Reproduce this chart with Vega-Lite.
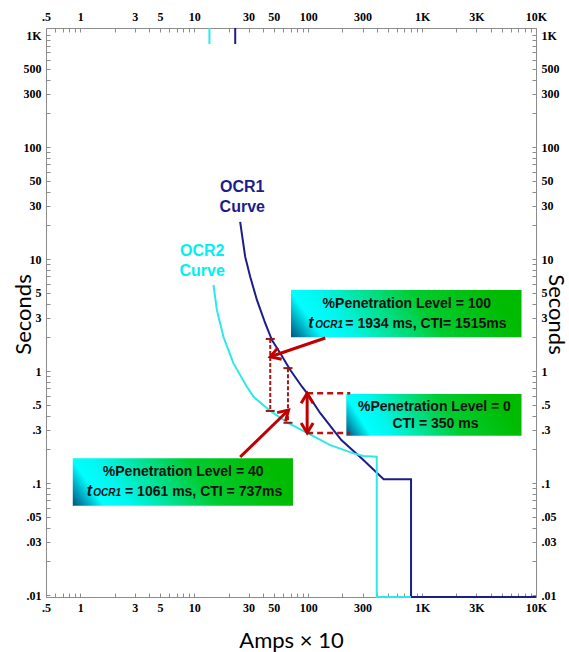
{
  "$schema": "https://vega.github.io/schema/vega-lite/v6.json",
  "width": 490,
  "height": 569,
  "autosize": "none",
  "padding": {"left": 46, "top": 28, "right": 33, "bottom": 55},
  "background": "white",
  "config": {
    "view": {"stroke": null},
    "axis": {
      "grid": false,
      "domainColor": "#8c8c8c",
      "tickColor": "#8c8c8c",
      "tickSize": -4,
      "labelFont": "Liberation Serif",
      "labelFontWeight": "bold",
      "labelFontSize": 12,
      "labelColor": "#000000",
      "labelPadding": 9,
      "labelFlush": false,
      "labelOverlap": false,
      "labelBound": false,
      "titleFont": "Lato",
      "titleFontSize": 22,
      "titleFontWeight": "normal",
      "titleColor": "#000000"
    }
  },
  "datasets": {
    "curves": [
      {"curve": "OCR1", "seg": "stub", "ord": 1, "amps": 22.9, "sec": 1155},
      {"curve": "OCR1", "seg": "stub", "ord": 2, "amps": 22.9, "sec": 831},
      {"curve": "OCR1", "seg": "main", "ord": 1, "amps": 25.3, "sec": 21.5},
      {"curve": "OCR1", "seg": "main", "ord": 2, "amps": 28.0, "sec": 10.5},
      {"curve": "OCR1", "seg": "main", "ord": 3, "amps": 31.0, "sec": 6.95},
      {"curve": "OCR1", "seg": "main", "ord": 4, "amps": 35.5, "sec": 4.31},
      {"curve": "OCR1", "seg": "main", "ord": 5, "amps": 42.0, "sec": 2.67},
      {"curve": "OCR1", "seg": "main", "ord": 6, "amps": 48.1, "sec": 1.89},
      {"curve": "OCR1", "seg": "main", "ord": 7, "amps": 56.9, "sec": 1.44},
      {"curve": "OCR1", "seg": "main", "ord": 8, "amps": 69.7, "sec": 1.02},
      {"curve": "OCR1", "seg": "main", "ord": 9, "amps": 88.3, "sec": 0.724},
      {"curve": "OCR1", "seg": "main", "ord": 10, "amps": 98, "sec": 0.632},
      {"curve": "OCR1", "seg": "main", "ord": 11, "amps": 127.8, "sec": 0.42},
      {"curve": "OCR1", "seg": "main", "ord": 12, "amps": 195.6, "sec": 0.242},
      {"curve": "OCR1", "seg": "main", "ord": 13, "amps": 299, "sec": 0.1637},
      {"curve": "OCR1", "seg": "main", "ord": 14, "amps": 460, "sec": 0.108},
      {"curve": "OCR1", "seg": "main", "ord": 15, "amps": 800, "sec": 0.108},
      {"curve": "OCR1", "seg": "main", "ord": 16, "amps": 800, "sec": 0.0096},
      {"curve": "OCR1", "seg": "main", "ord": 17, "amps": 10000, "sec": 0.0096},
      {"curve": "OCR2", "seg": "stub", "ord": 1, "amps": 13.6, "sec": 1155},
      {"curve": "OCR2", "seg": "stub", "ord": 2, "amps": 13.6, "sec": 831},
      {"curve": "OCR2", "seg": "main", "ord": 1, "amps": 14.76, "sec": 5.86},
      {"curve": "OCR2", "seg": "main", "ord": 2, "amps": 15.8, "sec": 3.51},
      {"curve": "OCR2", "seg": "main", "ord": 3, "amps": 18.07, "sec": 2.01},
      {"curve": "OCR2", "seg": "main", "ord": 4, "amps": 22.1, "sec": 1.17},
      {"curve": "OCR2", "seg": "main", "ord": 5, "amps": 29.0, "sec": 0.724},
      {"curve": "OCR2", "seg": "main", "ord": 6, "amps": 33.2, "sec": 0.589},
      {"curve": "OCR2", "seg": "main", "ord": 7, "amps": 46.5, "sec": 0.44},
      {"curve": "OCR2", "seg": "main", "ord": 8, "amps": 66.5, "sec": 0.345},
      {"curve": "OCR2", "seg": "main", "ord": 9, "amps": 98, "sec": 0.28},
      {"curve": "OCR2", "seg": "main", "ord": 10, "amps": 156.5, "sec": 0.218},
      {"curve": "OCR2", "seg": "main", "ord": 11, "amps": 250.8, "sec": 0.184},
      {"curve": "OCR2", "seg": "main", "ord": 12, "amps": 305, "sec": 0.174},
      {"curve": "OCR2", "seg": "main", "ord": 13, "amps": 400, "sec": 0.172},
      {"curve": "OCR2", "seg": "main", "ord": 14, "amps": 400, "sec": 0.0096},
      {"curve": "OCR2", "seg": "main", "ord": 15, "amps": 800, "sec": 0.0096}
    ],
    "boxes": [
      {"box": "p100", "a1": 70.7, "a2": 7464, "s1": 5.29, "s2": 2.0},
      {"box": "p0", "a1": 216.4, "a2": 7464, "s1": 0.623, "s2": 0.2645},
      {"box": "p40", "a1": 0.859, "a2": 73.6, "s1": 0.1663, "s2": 0.0627}
    ],
    "dashv": [
      {"id": "d100", "ord": 1, "amps": 46.5, "sec": 1.934},
      {"id": "d100", "ord": 2, "amps": 46.5, "sec": 0.44},
      {"id": "d40", "ord": 1, "amps": 66.5, "sec": 1.061},
      {"id": "d40", "ord": 2, "amps": 66.5, "sec": 0.345}
    ],
    "dashh": [
      {"id": "top", "ord": 1, "amps": 98, "sec": 0.632},
      {"id": "top", "ord": 2, "amps": 234.6, "sec": 0.632},
      {"id": "bot", "ord": 1, "amps": 98, "sec": 0.28},
      {"id": "bot", "ord": 2, "amps": 234.6, "sec": 0.28}
    ],
    "arrows": [
      {"id": "a100", "ord": 1, "amps": 141.4, "sec": 1.97},
      {"id": "a100", "ord": 2, "amps": 46.5, "sec": 1.34},
      {"id": "a40", "ord": 1, "amps": 25.3, "sec": 0.1706},
      {"id": "a40", "ord": 2, "amps": 67.3, "sec": 0.449},
      {"id": "a0", "ord": 1, "amps": 98, "sec": 0.632},
      {"id": "a0", "ord": 2, "amps": 98, "sec": 0.28}
    ],
    "heads": [
      {"amps": 46.5, "sec": 1.34, "angle": 251},
      {"amps": 67.3, "sec": 0.449, "angle": 46},
      {"amps": 98, "sec": 0.632, "angle": 0},
      {"amps": 98, "sec": 0.28, "angle": 180}
    ],
    "labels": [
      {"role": "ocr1", "text": "OCR1", "amps": 26.4, "sec": 43.9},
      {"role": "ocr1", "text": "Curve", "amps": 26.4, "sec": 29.1},
      {"role": "ocr2", "text": "OCR2", "amps": 11.74, "sec": 11.8},
      {"role": "ocr2", "text": "Curve", "amps": 11.74, "sec": 7.81},
      {"role": "center", "text": "%Penetration Level = 100", "amps": 735, "sec": 3.65},
      {"role": "t", "text": "t", "amps": 100.3, "sec": 2.405},
      {"role": "sub", "text": "OCR1", "amps": 115.6, "sec": 2.405},
      {"role": "left", "text": "= 1934 ms, CTI= 1515ms", "amps": 212, "sec": 2.405},
      {"role": "center", "text": "%Penetration Level = 0", "amps": 1284, "sec": 0.4395},
      {"role": "center", "text": "CTI = 350 ms", "amps": 1310, "sec": 0.312},
      {"role": "center", "text": "%Penetration Level = 40", "amps": 8.0, "sec": 0.1155},
      {"role": "t", "text": "t", "amps": 1.14, "sec": 0.0766},
      {"role": "sub", "text": "OCR1", "amps": 1.30, "sec": 0.0766},
      {"role": "left", "text": "= 1061 ms, CTI = 737ms", "amps": 2.47, "sec": 0.0766}
    ]
  },
  "layer": [
    {
      "data": {"name": "boxes"},
      "mark": {
        "type": "rect",
        "fill": {
          "gradient": "linear",
          "x1": 0, "y1": 1, "x2": 1, "y2": 0.85,
          "stops": [
            {"offset": 0, "color": "#00507e"},
            {"offset": 0.14, "color": "#00ffff"},
            {"offset": 0.26, "color": "#00f6ee"},
            {"offset": 0.65, "color": "#00cc30"},
            {"offset": 1, "color": "#00bb00"}
          ]
        }
      },
      "encoding": {
        "x": {"field": "a1", "type": "quantitative", "scale": {"type": "log", "domain": [0.5, 10000], "nice": false}, "axis": null},
        "x2": {"field": "a2"},
        "y": {"field": "s1", "type": "quantitative", "scale": {"type": "log", "domain": [0.0096, 1155], "nice": false}, "axis": null},
        "y2": {"field": "s2"}
      }
    },
    {
      "data": {"name": "curves"},
      "transform": [{"filter": "datum.curve == 'OCR1'"}],
      "mark": {"type": "line", "color": "#1c1c8a", "strokeWidth": 2},
      "encoding": {
        "x": {
          "field": "amps", "type": "quantitative",
          "scale": {"type": "log", "domain": [0.5, 10000], "nice": false},
          "axis": {
            "orient": "bottom",
            "title": "Amps × 10",
            "titleY": 50.7,
            "titleBaseline": "alphabetic",
            "values": [0.5, 0.6, 0.7, 0.8, 0.9, 1, 2, 3, 4, 5, 6, 7, 8, 9, 10, 20, 30, 40, 50, 60, 70, 80, 90, 100, 200, 300, 400, 500, 600, 700, 800, 900, 1000, 2000, 3000, 4000, 5000, 6000, 7000, 8000, 9000, 10000],
            "labelExpr": "indexof([0.5,1,3,5,10,30,50,100,300,1000,3000,10000], datum.value) < 0 ? '' : (datum.value >= 1000 ? (datum.value / 1000) + 'K' : (datum.value < 1 ? slice(toString(datum.value), 1) : toString(datum.value)))"
          }
        },
        "y": {
          "field": "sec", "type": "quantitative",
          "scale": {"type": "log", "domain": [0.0096, 1155], "nice": false},
          "axis": {
            "orient": "left",
            "title": "Seconds",
            "titleX": -16,
            "titleY": 286,
            "titleBaseline": "alphabetic",
            "values": [0.01, 0.02, 0.03, 0.04, 0.05, 0.06, 0.07, 0.08, 0.09, 0.1, 0.2, 0.3, 0.4, 0.5, 0.6, 0.7, 0.8, 0.9, 1, 2, 3, 4, 5, 6, 7, 8, 9, 10, 20, 30, 40, 50, 60, 70, 80, 90, 100, 200, 300, 400, 500, 600, 700, 800, 900, 1000],
            "labelExpr": "indexof([0.01,0.03,0.05,0.1,0.3,0.5,1,3,5,10,30,50,100,300,500,1000], datum.value) < 0 ? '' : (datum.value >= 1000 ? (datum.value / 1000) + 'K' : (datum.value < 1 ? slice(toString(datum.value), 1) : toString(datum.value)))"
          }
        },
        "detail": {"field": "seg"},
        "order": {"field": "ord", "type": "quantitative"}
      }
    },
    {
      "data": {"name": "curves"},
      "transform": [{"filter": "datum.curve == 'OCR2'"}],
      "mark": {"type": "line", "color": "#2ee8e8", "strokeWidth": 2},
      "encoding": {
        "x": {
          "field": "amps", "type": "quantitative",
          "scale": {"type": "log", "domain": [0.5, 10000], "nice": false},
          "axis": {
            "orient": "top",
            "title": null,
            "values": [0.5, 0.6, 0.7, 0.8, 0.9, 1, 2, 3, 4, 5, 6, 7, 8, 9, 10, 20, 30, 40, 50, 60, 70, 80, 90, 100, 200, 300, 400, 500, 600, 700, 800, 900, 1000, 2000, 3000, 4000, 5000, 6000, 7000, 8000, 9000, 10000],
            "labelExpr": "indexof([0.5,1,3,5,10,30,50,100,300,1000,3000,10000], datum.value) < 0 ? '' : (datum.value >= 1000 ? (datum.value / 1000) + 'K' : (datum.value < 1 ? slice(toString(datum.value), 1) : toString(datum.value)))"
          }
        },
        "y": {
          "field": "sec", "type": "quantitative",
          "scale": {"type": "log", "domain": [0.0096, 1155], "nice": false},
          "axis": {
            "orient": "right",
            "title": "Seconds",
            "titleX": 12,
            "titleY": 286,
            "titleBaseline": "alphabetic",
            "values": [0.01, 0.02, 0.03, 0.04, 0.05, 0.06, 0.07, 0.08, 0.09, 0.1, 0.2, 0.3, 0.4, 0.5, 0.6, 0.7, 0.8, 0.9, 1, 2, 3, 4, 5, 6, 7, 8, 9, 10, 20, 30, 40, 50, 60, 70, 80, 90, 100, 200, 300, 400, 500, 600, 700, 800, 900, 1000],
            "labelExpr": "indexof([0.01,0.03,0.05,0.1,0.3,0.5,1,3,5,10,30,50,100,300,500,1000], datum.value) < 0 ? '' : (datum.value >= 1000 ? (datum.value / 1000) + 'K' : (datum.value < 1 ? slice(toString(datum.value), 1) : toString(datum.value)))"
          }
        },
        "detail": {"field": "seg"},
        "order": {"field": "ord", "type": "quantitative"}
      }
    },
    {
      "data": {"name": "dashv"},
      "mark": {"type": "line", "color": "#a01818", "strokeWidth": 2, "strokeDash": [4, 2]},
      "encoding": {
        "x": {"field": "amps", "type": "quantitative", "scale": {"type": "log", "domain": [0.5, 10000], "nice": false}, "axis": null},
        "y": {"field": "sec", "type": "quantitative", "scale": {"type": "log", "domain": [0.0096, 1155], "nice": false}, "axis": null},
        "detail": {"field": "id"},
        "order": {"field": "ord", "type": "quantitative"}
      }
    },
    {
      "data": {"name": "dashh"},
      "mark": {"type": "line", "color": "#c01010", "strokeWidth": 2.5, "strokeDash": [6, 4]},
      "encoding": {
        "x": {"field": "amps", "type": "quantitative", "scale": {"type": "log", "domain": [0.5, 10000], "nice": false}, "axis": null},
        "y": {"field": "sec", "type": "quantitative", "scale": {"type": "log", "domain": [0.0096, 1155], "nice": false}, "axis": null},
        "detail": {"field": "id"},
        "order": {"field": "ord", "type": "quantitative"}
      }
    },
    {
      "data": {"name": "dashv"},
      "mark": {"type": "tick", "orient": "horizontal", "color": "#8b1a1a", "size": 9, "thickness": 2, "opacity": 1},
      "encoding": {
        "x": {"field": "amps", "type": "quantitative", "scale": {"type": "log", "domain": [0.5, 10000], "nice": false}, "axis": null},
        "y": {"field": "sec", "type": "quantitative", "scale": {"type": "log", "domain": [0.0096, 1155], "nice": false}, "axis": null}
      }
    },
    {
      "data": {"name": "arrows"},
      "mark": {"type": "line", "color": "#c00000", "strokeWidth": 3},
      "encoding": {
        "x": {"field": "amps", "type": "quantitative", "scale": {"type": "log", "domain": [0.5, 10000], "nice": false}, "axis": null},
        "y": {"field": "sec", "type": "quantitative", "scale": {"type": "log", "domain": [0.0096, 1155], "nice": false}, "axis": null},
        "detail": {"field": "id"},
        "order": {"field": "ord", "type": "quantitative"}
      }
    },
    {
      "data": {"name": "heads"},
      "mark": {"type": "point", "shape": "M-0.6,1L0,0L0.6,1", "filled": false, "stroke": "#c00000", "strokeWidth": 3, "size": 400, "opacity": 1},
      "encoding": {
        "x": {"field": "amps", "type": "quantitative", "scale": {"type": "log", "domain": [0.5, 10000], "nice": false}, "axis": null},
        "y": {"field": "sec", "type": "quantitative", "scale": {"type": "log", "domain": [0.0096, 1155], "nice": false}, "axis": null},
        "angle": {"field": "angle", "type": "quantitative", "scale": null}
      }
    },
    {
      "data": {"name": "labels"},
      "transform": [{"filter": "datum.role == 'ocr1'"}],
      "mark": {"type": "text", "font": "Liberation Sans", "fontWeight": "bold", "fontSize": 16, "color": "#1c1c8a", "align": "center", "baseline": "middle"},
      "encoding": {
        "x": {"field": "amps", "type": "quantitative", "scale": {"type": "log", "domain": [0.5, 10000], "nice": false}, "axis": null},
        "y": {"field": "sec", "type": "quantitative", "scale": {"type": "log", "domain": [0.0096, 1155], "nice": false}, "axis": null},
        "text": {"field": "text"}
      }
    },
    {
      "data": {"name": "labels"},
      "transform": [{"filter": "datum.role == 'ocr2'"}],
      "mark": {"type": "text", "font": "Liberation Sans", "fontWeight": "bold", "fontSize": 16, "color": "#00f0f0", "align": "center", "baseline": "middle"},
      "encoding": {
        "x": {"field": "amps", "type": "quantitative", "scale": {"type": "log", "domain": [0.5, 10000], "nice": false}, "axis": null},
        "y": {"field": "sec", "type": "quantitative", "scale": {"type": "log", "domain": [0.0096, 1155], "nice": false}, "axis": null},
        "text": {"field": "text"}
      }
    },
    {
      "data": {"name": "labels"},
      "transform": [{"filter": "datum.role == 'center'"}],
      "mark": {"type": "text", "font": "Liberation Sans", "fontWeight": "bold", "fontSize": 14, "color": "#111111", "align": "center", "baseline": "alphabetic"},
      "encoding": {
        "x": {"field": "amps", "type": "quantitative", "scale": {"type": "log", "domain": [0.5, 10000], "nice": false}, "axis": null},
        "y": {"field": "sec", "type": "quantitative", "scale": {"type": "log", "domain": [0.0096, 1155], "nice": false}, "axis": null},
        "text": {"field": "text"}
      }
    },
    {
      "data": {"name": "labels"},
      "transform": [{"filter": "datum.role == 'left'"}],
      "mark": {"type": "text", "font": "Liberation Sans", "fontWeight": "bold", "fontSize": 14, "color": "#111111", "align": "left", "baseline": "alphabetic"},
      "encoding": {
        "x": {"field": "amps", "type": "quantitative", "scale": {"type": "log", "domain": [0.5, 10000], "nice": false}, "axis": null},
        "y": {"field": "sec", "type": "quantitative", "scale": {"type": "log", "domain": [0.0096, 1155], "nice": false}, "axis": null},
        "text": {"field": "text"}
      }
    },
    {
      "data": {"name": "labels"},
      "transform": [{"filter": "datum.role == 't'"}],
      "mark": {"type": "text", "font": "Liberation Sans", "fontWeight": "bold", "fontStyle": "italic", "fontSize": 16, "color": "#111111", "align": "left", "baseline": "alphabetic"},
      "encoding": {
        "x": {"field": "amps", "type": "quantitative", "scale": {"type": "log", "domain": [0.5, 10000], "nice": false}, "axis": null},
        "y": {"field": "sec", "type": "quantitative", "scale": {"type": "log", "domain": [0.0096, 1155], "nice": false}, "axis": null},
        "text": {"field": "text"}
      }
    },
    {
      "data": {"name": "labels"},
      "transform": [{"filter": "datum.role == 'sub'"}],
      "mark": {"type": "text", "font": "Liberation Sans", "fontWeight": "bold", "fontStyle": "italic", "fontSize": 10, "color": "#111111", "align": "left", "baseline": "alphabetic"},
      "encoding": {
        "x": {"field": "amps", "type": "quantitative", "scale": {"type": "log", "domain": [0.5, 10000], "nice": false}, "axis": null},
        "y": {"field": "sec", "type": "quantitative", "scale": {"type": "log", "domain": [0.0096, 1155], "nice": false}, "axis": null},
        "text": {"field": "text"}
      }
    }
  ],
  "resolve": {"axis": {"x": "independent", "y": "independent"}}
}
